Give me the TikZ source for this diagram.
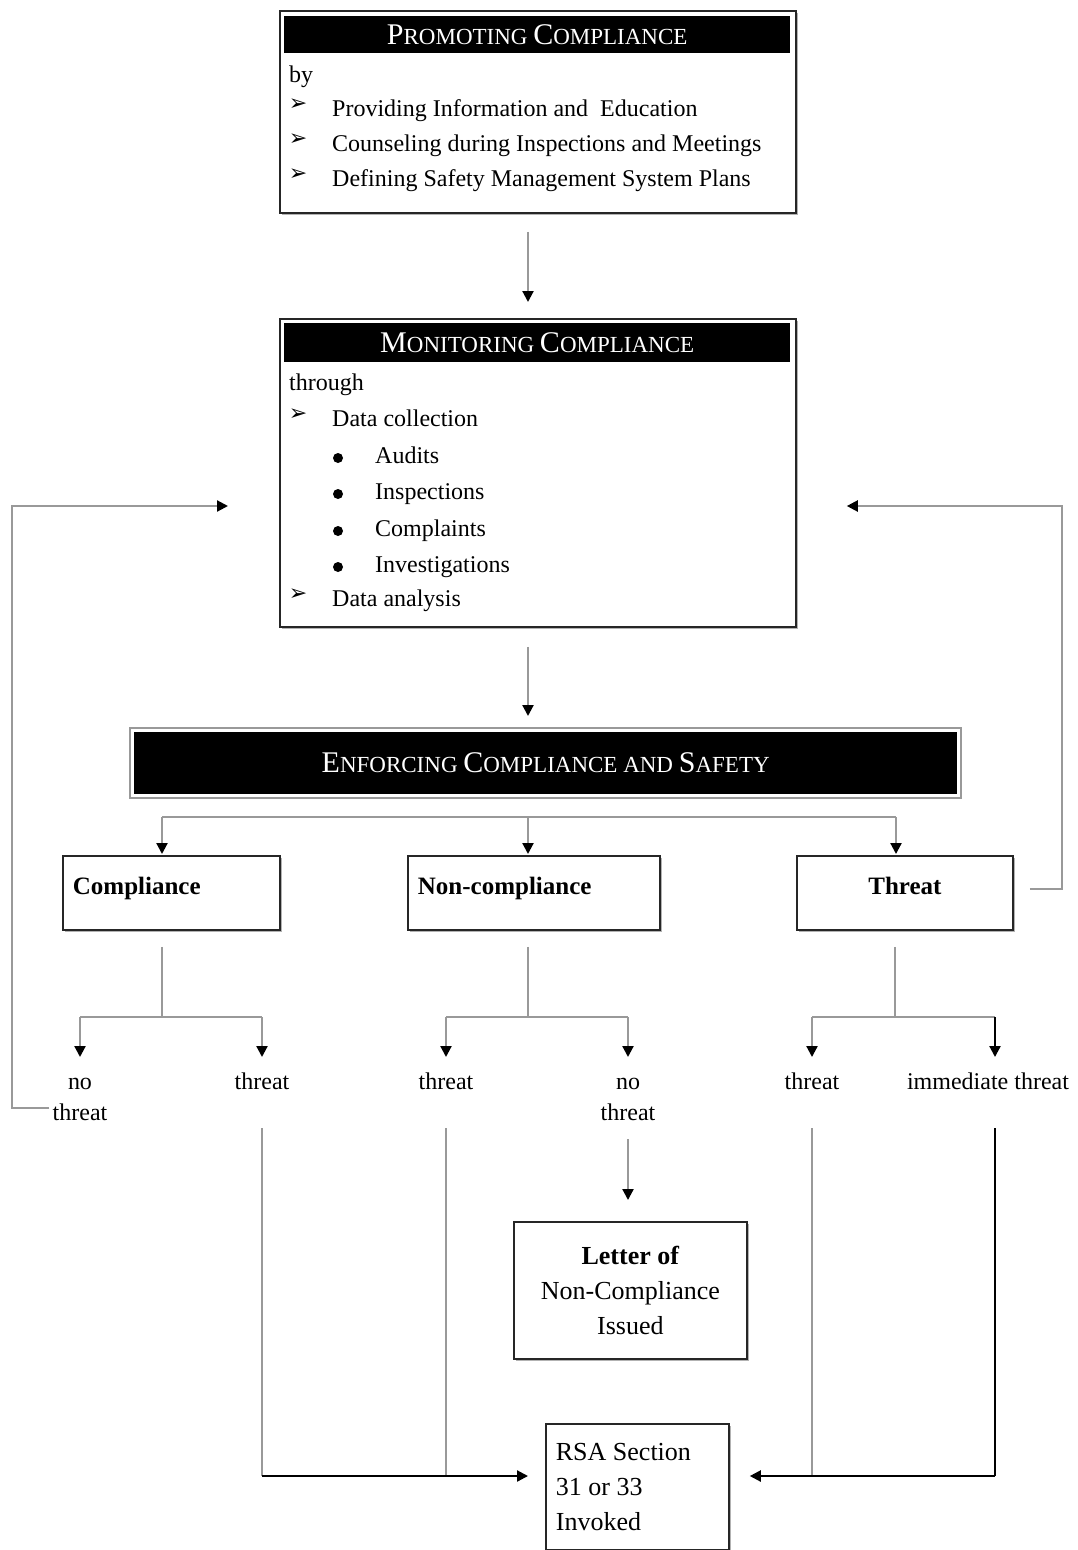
\documentclass[tikz,border=0pt]{standalone}
\usepackage{fontspec}
\setmainfont{Liberation Serif}
\newfontfamily\dingfont{DejaVu Sans}
\usetikzlibrary{arrows.meta,shadows}
\newcommand\bodyf{\fontsize{24}{31}\selectfont}
\newcommand\boldf{\fontsize{25}{31}\selectfont\bfseries}
\newcommand\boxf{\fontsize{26}{35}\selectfont}
\newcommand\hdrf{\fontsize{23}{23}\selectfont}
\newcommand\sccap[2]{{\fontsize{30}{30}\selectfont #1}#2}
\begin{document}
\begin{tikzpicture}[x=1pt,y=-1pt,
  gline/.style={draw=black!40, line width=2.2pt},
  bline/.style={draw=black, line width=2.2pt},
  arr/.style={-{Triangle[color=black,length=11pt,width=11pt]}},
  box/.style={draw=black!85, line width=1.8pt, fill=white,
    drop shadow={shadow xshift=2.5pt,shadow yshift=-2.5pt,fill=black!30,opacity=1}},
  hdr/.style={fill=black, text=white, inner sep=0pt, font=\hdrf},
  txt/.style={anchor=base west, inner sep=0pt, font=\bodyf},
  lbl/.style={font=\bodyf, align=center, inner sep=0pt, anchor=north},
  bul/.style={font=\dingfont\fontsize{22}{22}\selectfont, inner sep=0pt},
  bdot/.style={circle, fill=black, minimum size=10pt, inner sep=0pt},
]
\useasboundingbox (0,0) rectangle (1078,1550);

% ---------- Promoting ----------
\node[box, minimum width=516pt, minimum height=202pt, anchor=north west] (promo) at (279,10) {};
\node[hdr, minimum width=506pt, minimum height=37pt, anchor=north west] (promoH) at (284,16)
  {\sccap{P}{ROMOTING} \sccap{C}{OMPLIANCE}};
\node[txt] (by) at (289,82) {by};
\node[bul] (pb1) at (298,105) {➢};
\node[txt] (p1) at (332,116) {Providing Information and\ \ Education};
\node[bul] (pb2) at (298,140) {➢};
\node[txt] (p2) at (332,151) {Counseling during Inspections and Meetings};
\node[bul] (pb3) at (298,175) {➢};
\node[txt] (p3) at (332,186) {Defining Safety Management System Plans};

% ---------- Monitoring ----------
\node[box, minimum width=516pt, minimum height=308pt, anchor=north west] (mon) at (279,318) {};
\node[hdr, minimum width=506pt, minimum height=39pt, anchor=north west] (monH) at (284,323)
  {\sccap{M}{ONITORING} \sccap{C}{OMPLIANCE}};
\node[txt] (thr0) at (289,390) {through};
\node[bul] (mb1) at (298,415) {➢};
\node[txt] (m1) at (332,426) {Data collection};
\node[bdot] (d1) at (338,458) {};
\node[txt] (m2) at (375,463) {Audits};
\node[bdot] (d2) at (338,494) {};
\node[txt] (m3) at (375,499) {Inspections};
\node[bdot] (d3) at (338,531) {};
\node[txt] (m4) at (375,536) {Complaints};
\node[bdot] (d4) at (338,567) {};
\node[txt] (m5) at (375,572) {Investigations};
\node[bul] (mb2) at (298,595) {➢};
\node[txt] (m6) at (332,606) {Data analysis};

% ---------- Enforcing ----------
\node[hdr, minimum width=823pt, minimum height=62pt, anchor=north west] (enf) at (134,732)
  {\sccap{E}{NFORCING} \sccap{C}{OMPLIANCE} AND \sccap{S}{AFETY}};
\draw[draw=black!40, line width=2pt] ([shift={(-4,-4)}]enf.north west) rectangle ([shift={(4,4)}]enf.south east);

% ---------- Level boxes ----------
\node[box, minimum width=217pt, minimum height=74pt, anchor=north west, font=\boldf,
  align=flush left, text width=197pt, inner xsep=10pt, text depth=14pt] (comp) at (62,855) {Compliance};
\node[box, minimum width=252pt, minimum height=74pt, anchor=north west, font=\boldf,
  align=flush left, text width=232pt, inner xsep=10pt, text depth=14pt] (ncomp) at (407,855) {Non-compliance};
\node[box, minimum width=216pt, minimum height=74pt, anchor=north west, font=\boldf,
  align=flush center, text width=196pt, inner xsep=10pt, text depth=14pt] (thr) at (796,855) {Threat};

% ---------- Labels ----------
\node[lbl] (nt1) at (80,1068) {\strut no\\threat};
\node[lbl] (t1) at (262,1068) {\strut threat};
\node[lbl] (t2) at (446,1068) {\strut threat};
\node[lbl] (nt2) at (628,1068) {\strut no\\threat};
\node[lbl] (t3) at (812,1068) {\strut threat};
\node[lbl] (it) at (988,1068) {\strut immediate threat};

% ---------- Bottom boxes ----------
\node[box, minimum width=233pt, minimum height=137pt, anchor=north west, font=\boxf,
  align=flush center, text width=213pt, inner xsep=10pt] (letter) at (513,1221)
  {\textbf{Letter of}\\Non-Compliance\\Issued};
\node[box, minimum width=183pt, minimum height=126pt, anchor=north west, font=\boxf,
  align=flush left, text width=163pt, inner xsep=10pt] (rsa) at (545,1423)
  {RSA Section\\31 or 33\\Invoked};

% ---------- Coordinates ----------
\coordinate (xA) at (528,0);
\coordinate (bL) at (162,817);
\coordinate (bM) at (528,817);
\coordinate (bR) at (896,817);
\coordinate (cL) at (80,1017);
\coordinate (cM) at (162,1017);
\coordinate (cR) at (262,1017);
\coordinate (nL) at (446,1017);
\coordinate (nM) at (528,1017);
\coordinate (nR) at (628,1017);
\coordinate (tL) at (812,1017);
\coordinate (tM) at (895,1017);
\coordinate (tR) at (995,1017);
\coordinate (hL) at (262,1476);
\coordinate (hR) at (995,1476);
\coordinate (fl1) at (12,1108);
\coordinate (fl2) at (12,506);
\coordinate (fr1) at (1062,889);
\coordinate (fr2) at (1062,506);

% ---------- Connectors ----------
\draw[gline,arr,shorten <=18pt,shorten >=16pt] (promo.south -| xA) -- (mon.north -| xA);
\draw[gline,arr,shorten <=19pt,shorten >=16pt] (mon.south -| xA) -- (enf.north -| xA);

\draw[gline] (bL) -- (bR);
\draw[gline,arr,shorten >=1pt] (bL) -- (comp.north -| bL);
\draw[gline,arr,shorten >=1pt] (bM) -- (ncomp.north -| bM);
\draw[gline,arr,shorten >=1pt] (bR) -- (thr.north -| bR);

\draw[gline,shorten <=16pt] (comp.south -| cM) -- (cM);
\draw[gline] (cL) -- (cR);
\draw[gline,arr,shorten >=11pt] (cL) -- (nt1.north);
\draw[gline,arr,shorten >=11pt] (cR) -- (t1.north);

\draw[gline,shorten <=16pt] (ncomp.south -| nM) -- (nM);
\draw[gline] (nL) -- (nR);
\draw[gline,arr,shorten >=11pt] (nL) -- (t2.north);
\draw[gline,arr,shorten >=11pt] (nR) -- (nt2.north);

\draw[gline,shorten <=16pt] (thr.south -| tM) -- (tM);
\draw[gline] (tL) -- (tR);
\draw[gline,arr,shorten >=11pt] (tL) -- (t3.north);
\draw[bline,arr,shorten >=11pt] (tR) -- (it.north -| tR);

\draw[gline,arr,shorten <=18pt,shorten >=21pt] (nt2.south) -- (letter.north -| nt2.south);

\draw[gline,shorten <=29pt] (t1.south) -- (hL);
\draw[gline,shorten <=29pt] (t2.south) -- (t2.south |- hL);
\draw[bline,arr,shorten >=17pt] (hL) -- (rsa.west |- hL);
\draw[bline,shorten <=29pt] (it.south -| hR) -- (hR);
\draw[gline,shorten <=29pt] (t3.south) -- (t3.south |- hR);
\draw[bline,arr,shorten >=20pt] (hR) -- (rsa.east |- hR);

\draw[gline,arr,shorten <=3pt,shorten >=51pt] (nt1.west |- fl1) -- (fl1) -- (fl2) -- (mon.west |- fl2);
\draw[gline,arr,shorten <=16pt,shorten >=50pt] (thr.east |- fr1) -- (fr1) -- (fr2) -- (mon.east |- fr2);
\end{tikzpicture}
\end{document}
